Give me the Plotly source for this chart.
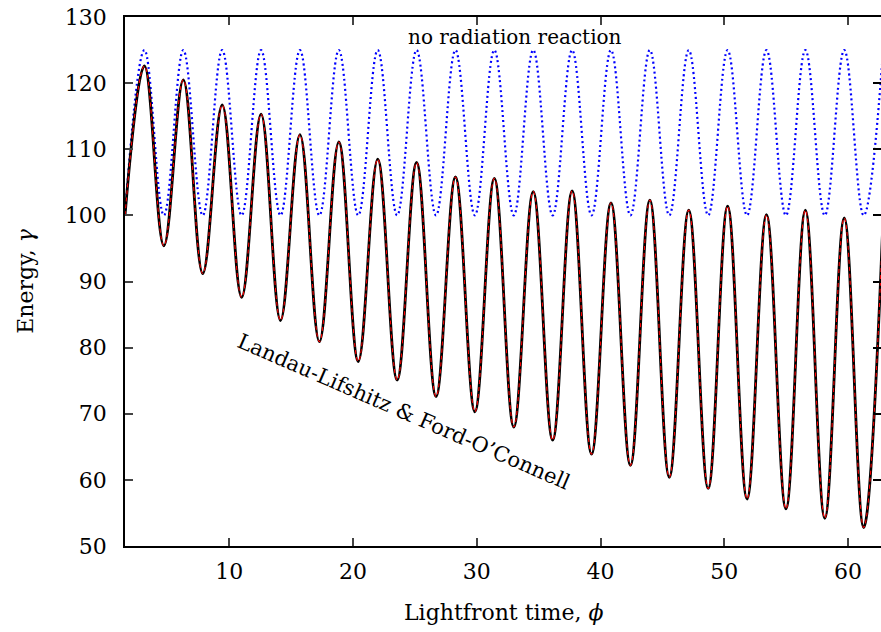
import plotly.graph_objects as go

# Lightfront time (phi) at the read extrema of each curve
phi_rr = [1.571, 3.142, 4.712, 6.283, 7.854, 9.425, 10.996, 12.566, 14.137, 15.708,
          17.279, 18.850, 20.420, 21.991, 23.562, 25.133, 26.704, 28.274, 29.845, 31.416,
          32.987, 34.558, 36.128, 37.699, 39.270, 40.841, 42.412, 43.982, 45.553, 47.124,
          48.695, 50.265, 51.836, 53.407, 54.978, 56.549, 58.119, 59.690, 61.261, 62.832]
gamma_rr = [100.0, 122.6, 95.4, 120.5, 91.2, 116.7, 87.6, 115.3, 84.1, 112.2,
            80.9, 111.1, 77.9, 108.5, 75.1, 108.0, 72.6, 105.8, 70.3, 105.6,
            68.0, 103.6, 66.0, 103.7, 63.9, 101.9, 62.2, 102.3, 60.4, 100.8,
            58.7, 101.4, 57.1, 100.1, 55.6, 100.8, 54.2, 99.6, 52.8, 99.8]

phi_free = phi_rr
gamma_free = [100.0, 125.0, 100.0, 125.0, 100.0, 125.0, 100.0, 125.0, 100.0, 125.0,
              100.0, 125.0, 100.0, 125.0, 100.0, 125.0, 100.0, 125.0, 100.0, 125.0,
              100.0, 125.0, 100.0, 125.0, 100.0, 125.0, 100.0, 125.0, 100.0, 125.0,
              100.0, 125.0, 100.0, 125.0, 100.0, 125.0, 100.0, 125.0, 100.0, 125.0]

x_ticks = [10, 20, 30, 40, 50, 60]
y_ticks = [50, 60, 70, 80, 90, 100, 110, 120, 130]

FONT = "DejaVu Serif"
SM = 1.1

fig = go.Figure()
fig.add_trace(go.Scatter(x=phi_free, y=gamma_free, mode="lines",
                         line=dict(color="#0000ff", width=2.2, dash="2px,3px",
                                   shape="spline", smoothing=SM),
                         showlegend=False))
fig.add_trace(go.Scatter(x=phi_rr, y=gamma_rr, mode="lines",
                         line=dict(color="black", width=2.8, shape="spline", smoothing=SM),
                         showlegend=False))
fig.add_trace(go.Scatter(x=phi_rr, y=gamma_rr, mode="lines",
                         line=dict(color="#ff0000", width=1.1, dash="4px,3px",
                                   shape="spline", smoothing=SM),
                         showlegend=False))
fig.add_trace(go.Scatter(x=[None], y=[None], yaxis="y2", showlegend=False))

fig.update_layout(
    width=881, height=632,
    margin=dict(l=125, r=0, t=17, b=86),
    paper_bgcolor="white", plot_bgcolor="white",
    font=dict(family=FONT, size=22, color="black"),
    xaxis=dict(range=[1.571, 62.66], tickvals=x_ticks, ticks="inside", ticklen=8,
               tickwidth=1.5, showline=True, linewidth=1.5, linecolor="black",
               mirror="ticks", showgrid=False, zeroline=False,
               tickfont=dict(family=FONT, size=22), ticklabelstandoff=5),
    yaxis=dict(range=[50, 130], tickvals=y_ticks, ticks="inside", ticklen=8,
               tickwidth=1.5, showline=True, linewidth=1.5, linecolor="black",
               showgrid=False, zeroline=False,
               tickfont=dict(family=FONT, size=22), ticklabelstandoff=12),
    yaxis2=dict(range=[50, 130], tickvals=y_ticks, overlaying="y", side="right",
                ticks="inside", ticklen=8, tickwidth=1.5, tickcolor="black",
                showticklabels=False, showline=False, showgrid=False, zeroline=False),
    annotations=[
        dict(text="Lightfront time, <i>ϕ</i>", x=0.5, xref="paper", y=-0.125, yref="paper",
             yanchor="middle", showarrow=False, font=dict(family=FONT, size=22)),
        dict(text="Energy, <i>γ</i>", x=-0.132, xref="paper", y=0.5, yref="paper",
             textangle=-90, showarrow=False, font=dict(family=FONT, size=22),
             xanchor="center", yanchor="middle"),
        dict(text="no radiation reaction", x=33.07, y=127.0, xref="x", yref="y",
             showarrow=False, font=dict(family=FONT, size=20)),
        dict(text="Landau-Lifshitz &amp; Ford-O’Connell", x=24.14, y=70.3, xref="x", yref="y",
             showarrow=False, textangle=23.5, font=dict(family=FONT, size=21)),
    ],
)

fig.write_html("out.html")
